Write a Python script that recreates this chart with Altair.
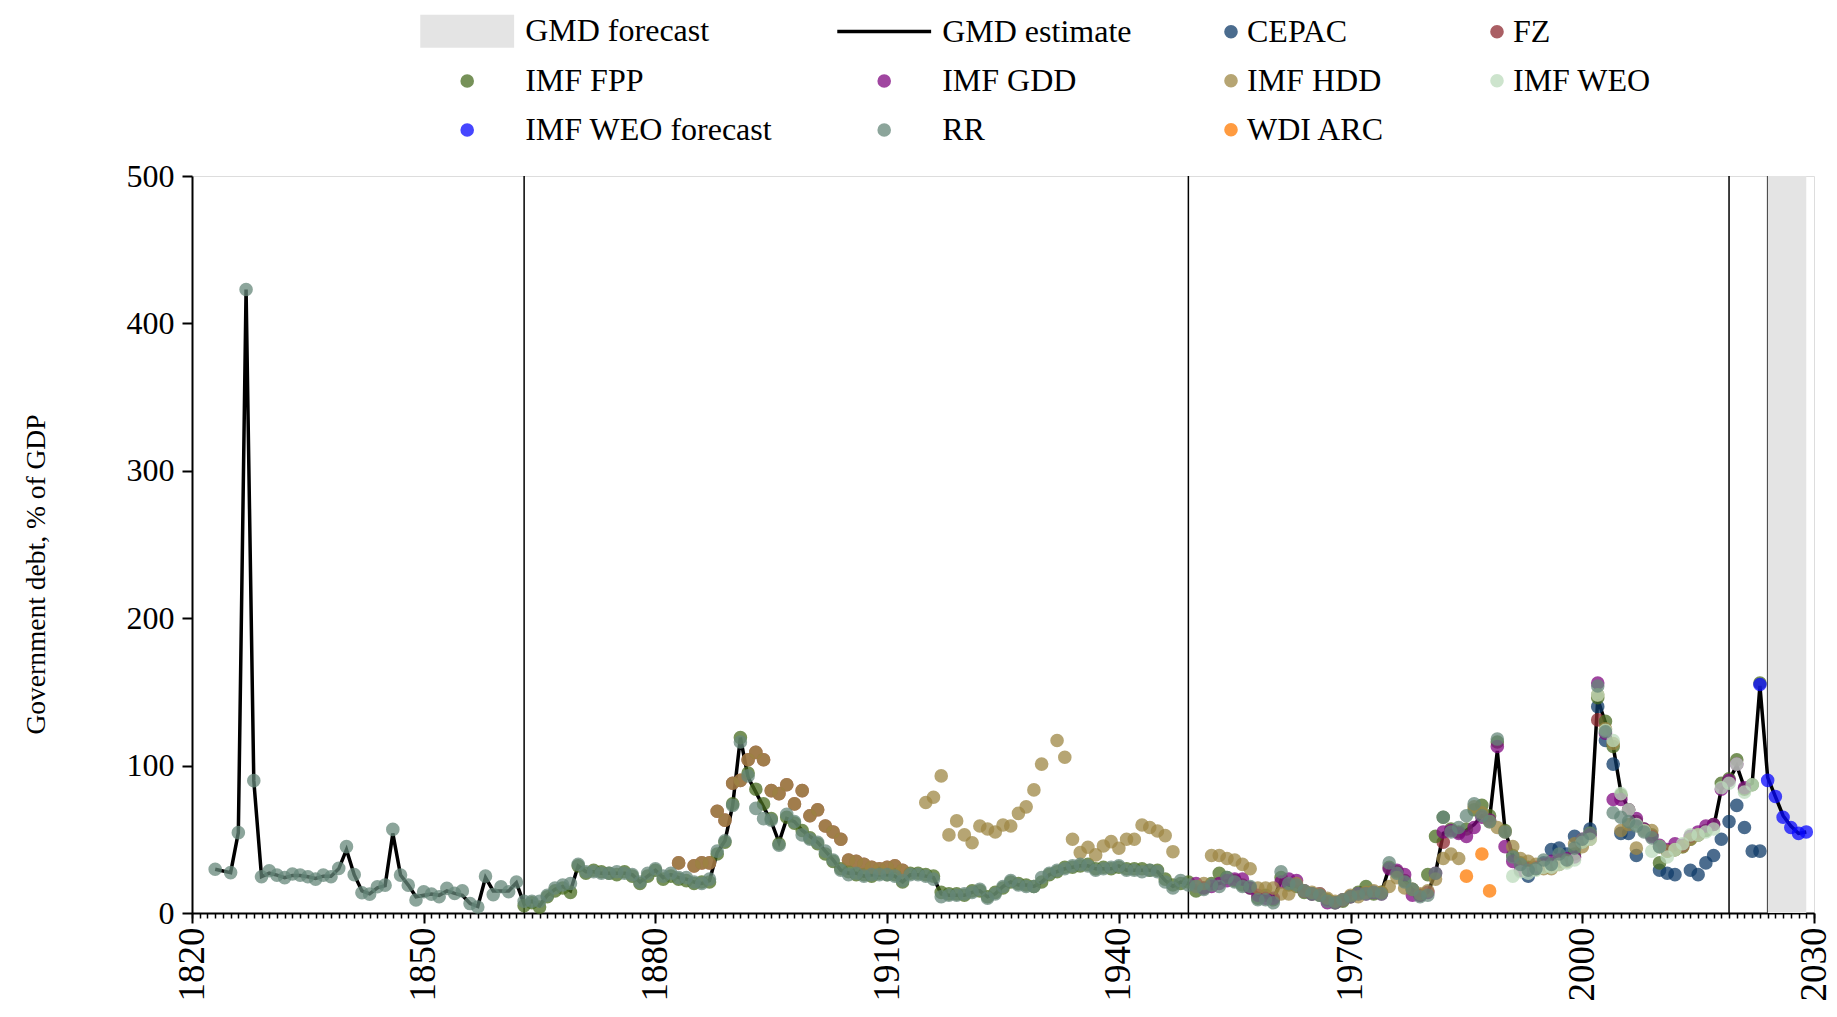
import altair as alt
import pandas as pd

FONT = "Liberation Serif"

# ---------------- data ----------------
# GMD estimate (black line), yearly from 1823 to 2029 (None = no value)
line_start = 1823
gmd_estimate = [
    29.7, None, 27.4, 54.5, 423, 89.8, 24.6, 27, 25.7, 24,          # 1823-1832
    25.5, 25.5, 24.6, 23.5, 25, 25, 30, 43, 26, 15,                 # 1833-1842
    13, 17, 18.5, 54, 25.7, 18.9, 11, 12, 12.8, 12,                 # 1843-1852
    15, 13.3, 12, 6.4, 4.5, 24, 15, 15, 15, 20.5,                   # 1853-1862
    6, 8, 5, 12, 16, 18, 15,                                        # 1863-1869
    32, 28, 28, 27, 27, 27, 27, 26, 21, 25,                         # 1870s
    29, 24, 26, 24, 23, 21, 20, 22, 41, 49,                         # 1880s
    73, 119, 92, 82, 72, 62, 48, 64, 62, 56,                        # 1890s
    52, 48, 42, 36, 29, 27, 27, 25, 26, 26,                         # 1900s
    26, 25, 21, 26, 26, 25, 24, 13, 12, 12,                         # 1910s
    12, 14, 15, 11, 13, 18, 21, 19, 19, 18,                         # 1920s
    21, 26, 28, 30, 31, 32, 32, 30, 30, 30,                         # 1930s
    32, 29, 29, 29, 29, 28, 22, 18, 21, 20,                         # 1940s
    17, 17, 19, 20, 22, 22, 20, 17, 13, 11,                         # 1950s
    9, 22, 19, 18, 15, 13, 13, 9, 7, 9,                             # 1960s
    11, 12, 13, 13, 14, 31, 28, 22, 16, 12,                         # 1970s
    14, 27, 54, 56, 55, 56, 60, 66, 64, 110,                        # 1980s
    56, 39, 34, 31, 30, 32, 33, 35, 36, 40,                         # 1990s
    48, 54, 145, 129, 113, 82, 70, 62, 57, 53,                      # 2000s
    46, 44, 43, 45, 50, 53, 56, 58, 84, 90,                         # 2010s
    100, 85, 88, 154, 92, 79, 66, 59, 54, 55,                       # 2020-2029
]

forecast_years = [2024, 2029]          # shaded GMD forecast span
break_years = [1863, 1949, 2019, 2024]  # vertical reference lines

rr_start = 1823
rr = [
    29.7, None, 27.4, 54.5, 423, 89.8, 24.6, 28.7, 25.7, 24,
    26.5, 25.7, 24.6, 23, 25.7, 24.6, 30.3, 45, 26, 13.7,
    12.8, 17.8, 18.9, 56.7, 25.7, 18.9, 8.8, 14.4, 12.8, 11,
    16.7, 13.3, 15, 6.4, 4.1, 25, 12.5, 17.8, 14.4, 21,
    8, 8, 8, 12, 17, 19, 20,
    33, 28, 28, 27, 27, 28, 27, 26, 21, 27,
    30, 25, 27, 24, 24, 21, 20, 23, 42, 49,
    73, 116, 93, 71, 64, 63, 46, 67, 62, 53,
    50, 48, 42, 36, 29, 26, 27, 25, 26, 26,
    26, 25, 22, 26, 26, 25, 23, 11, 12, 12,
    13, 14, 16, 10, 13, 18, 22, 19, 18, 18,
    24, 27, 29, 30, 32, 33, 32, 29, 30, 31,
    32, 29, 29, 28, 29, 28, 21, 17, 22, 19,
    18, 16, 19, 18, 24, 21, 18, 18, 9, 9,
    7, 28, 20, 19, 15, 13, 12, 8, 7, 9,
    11, 13, 13, 14, 13, 34, 27, 21, 16, 11,
    12, 27, 65, 55, 58, 66, 74, 66, 62, 118,
    55, 38, 33, 29, 30, 36, 33, 40, 36, 44,
    50, 54, 154, 123, 68, 65, 62, 59, 55, 51,
    45,
]

fpp_start = 1863
imf_fpp = [
    5, 7, 4, 11, 15, 17, 14,
    32, 27, 29, 28, 27, 26, 28, 25, 20, 25,
    29, 23, 25, 23, 22, 20, 21, 21, 40, 48,
    74, 119, 95, 84, 74, 64, 47, 65, 61, 56,
    51, 47, 40, 35, 30, 28, 26, 26, 25, 27,
    26, 26, 21, 27, 27, 26, 25, 14, 13, 13,
    12, 15, 15, 11, 14, 17, 21, 20, 19, 18,
    21, 26, 28, 31, 31, 32, 33, 30, 31, 30,
    31, 30, 30, 30, 29, 29, 23, 19, 20, 21,
    15, 17, 20, 27, 24, 22, 19, 17, 10, 12,
    9, 24, 19, 18, 14, 13, 12, 9, 7, 8,
    11, 14, 18, 13, 14, 31, 28, 22, 16, 12,
    26, 52, 65, 57, 55, 57, 70, 73, 66, 116,
    56, 39, 34, 31, 30, 32, 33, 35, 36, 40,
    48, 54, 146, 130, 113, 80, 70, 62, 57, 53,
    34, 42, 43, 45, 50, 53, 56, 60, 88, 91,
    104, 84, 87, 156,
]

gdd_start = 1950
imf_gdd = [
    20, 17, 18, 20, 22, 23, 23, 17, 12, 10,
    10, 21, 23, 22, 15, 13, 13, 7, 7, 9,
    11, 13, 13, 14, 13, 30, 29, 26, 12, 12,
    14, 27, 55, 56, 54, 52, 58, 65, 63, 113,
    45, 35, 29, 30, 31, 33, 35, 36, 37, 38,
    50, 53, 156, 122, 77, 77, 70, 64, 57, 52,
    46, 43, 47, 46, 52, 55, 59, 60, 84, 90,
    101, 85,
]

hdd_a_start = 1883
imf_hdd_a = [
    34, None, 32, 34, 34, 69, 63, 88, 90, 104,
    109, 104, 83, 81, 87, 74, 83, 66, 70, 59,
    55, 50, 36, 35, 33, 31, 30, 31, 32, 29,
]
hdd_b_start = 1915
imf_hdd_b = [
    75, 78.5, 93, 53, 62.5, 53, 47.7, 59, 57, 55,
    59.7, 59, 67.6, 72, 83.5, 101, None, 117, 105.7, 50,
    41, 44.6, 39.4, 45.5, 48.4, 43.9, 50, 50, 59.7, 58,
    55.6, 52.5, 41.6,
]
hdd_c_start = 1950
imf_hdd_c = [
    18, 20, 39, 39, 37, 36, 33, 30, 17, 17,
    17, 13, 13, 20, 15, 14, 13, 10, 8, 9,
    12, 11, 14, 15, 14, 18, 24, 17, 16, 13,
    15, 23, 37, 40, 37, None, 72, 68, 62, 58,
    55, 45, 37, 35, 33, 30, 30, 33, 35, 47,
    45, 50, 148, 125, 115, 56, 60, 44, 56, 56,
    45, 42, 43, 45, 50, 53,
]

fz_a_start = 1883
fz_a = [
    34, None, 32, 34, 34, 69, 63, 88, 90, 104,
    109, 104, 83, 81, 87, 74, 83, 66, 70, 59,
    55, 50, 36, 35, 33, 31, 30, 31, 32, 29,
]
fz_b_years = [1982, 2002]
fz_b = [48, 131]

weo_start = 1991
imf_weo = [
    25, 28, 27, 29, 31, 31, 33, 34, 36,
    48, 50, 148, 124, 117, 81, 70, 60, 56, 42,
    45, 38, 43, 47, 53, 53, 55, 57, 85, 88,
    101, 82, 87,
]

weo_fc_start = 2023
imf_weo_forecast = [155, 90, 79, 65, 58, 54, 55]

cepac_start = 1993
cepac = [
    25, 30, 34, 43, 44, 40, 52,
    None, 57, 140, 117, 101, 54, 54, 39, None, None,
    29, 27, 26, None, 29, 26, 34, 39, 50, 62,
    73, 58, 42, 42,
]

wdi_years = [1985, 1987, 1988]
wdi_arc = [25, 40, 15]

# ---------------- assemble tables ----------------
def seg(name, start, vals):
    return [(start + i, v, name) for i, v in enumerate(vals) if v is not None]

def pts(name, years, vals):
    return [(y, v, name) for y, v in zip(years, vals)]

rows = []
rows += seg("RR", rr_start, rr)
rows += seg("IMF FPP", fpp_start, imf_fpp)
rows += seg("IMF GDD", gdd_start, imf_gdd)
rows += seg("IMF HDD", hdd_a_start, imf_hdd_a)
rows += seg("IMF HDD", hdd_b_start, imf_hdd_b)
rows += seg("IMF HDD", hdd_c_start, imf_hdd_c)
rows += seg("FZ", fz_a_start, fz_a)
rows += pts("FZ", fz_b_years, fz_b)
rows += seg("IMF WEO", weo_start, imf_weo)
rows += seg("IMF WEO forecast", weo_fc_start, imf_weo_forecast)
rows += seg("CEPAC", cepac_start, cepac)
rows += pts("WDI ARC", wdi_years, wdi_arc)
src = pd.DataFrame(rows, columns=["year", "value", "source"])

line_df = pd.DataFrame(seg("GMD estimate", line_start, gmd_estimate),
                       columns=["year", "value", "source"])
fc_df = pd.DataFrame({"start": [forecast_years[0]], "end": [forecast_years[1]]})
brk_df = pd.DataFrame({"year": break_years})

# ---------------- styling ----------------
dom_a = ["GMD forecast", "GMD estimate", "IMF FPP", "IMF GDD", "IMF WEO forecast", "RR"]
rng_a = ["#e4e4e4", "#000000", "rgba(72,108,32,0.75)", "rgba(128,8,128,0.75)",
         "rgba(8,8,255,0.75)", "rgba(102,135,122,0.75)"]
shp_a = ["M-6.9,-2.43H6.9V2.43H-6.9Z", "M-6.9,-0.26H6.9V0.26H-6.9Z",
         "circle", "circle", "circle", "circle"]
dom_b = ["CEPAC", "FZ", "IMF HDD", "IMF WEO", "WDI ARC"]
rng_b = ["rgba(15,59,104,0.75)", "rgba(142,42,48,0.75)", "rgba(158,135,68,0.75)",
         "rgba(188,219,188,0.75)", "rgba(255,122,0,0.75)"]

legend_a = alt.Legend(orient="none", legendX=219, legendY=-161, columns=2,
                      direction="horizontal",
                      columnPadding=55, rowPadding=17, symbolSize=185,
                      symbolOffset=40.2, labelOffset=42, labelFont=FONT,
                      labelFontSize=32, labelColor="black", labelLimit=500,
                      title=None, padding=0, symbolStrokeWidth=0)
legend_b = alt.Legend(orient="none", legendX=1023, legendY=-160.3, columns=2,
                      direction="horizontal",
                      columnPadding=96, rowPadding=17, symbolSize=185,
                      labelOffset=0, labelFont=FONT, labelFontSize=32,
                      labelColor="black", labelLimit=500, title=None,
                      padding=0, symbolStrokeWidth=0)

xscale = alt.Scale(domain=[1820, 2030], nice=False, zero=False)
yscale = alt.Scale(domain=[0, 500], nice=False, zero=False)

x_axis = alt.Axis(values=list(range(1820, 2031, 30)), format="d", title=None,
                  labelAngle=270, labelAlign="right", labelBaseline="middle",
                  labelFont=FONT, labelFontSize=37, labelColor="black",
                  labelPadding=4, tickSize=10, tickWidth=2, tickColor="black",
                  domainColor="black", domainWidth=2, grid=False,
                  labelFlush=False, labelOverlap=False, orient="bottom")
minor_axis = alt.Axis(values=list(range(1820, 2031)), labels=False, domain=False,
                      tickSize=5, tickWidth=1.5, tickColor="black", grid=False,
                      title=None, orient="bottom")
y_axis = alt.Axis(values=[0, 100, 200, 300, 400, 500], title="Government debt, % of GDP",
                  labelFont=FONT, labelFontSize=32, labelColor="black",
                  labelPadding=8, tickSize=10, tickWidth=2, tickColor="black",
                  domainColor="black", domainWidth=2, grid=False,
                  titleFont=FONT, titleFontSize=27.5, titleFontWeight="normal",
                  titleColor="black", titleAngle=270, titleBaseline="middle",
                  titleX=-156, titleY=398, labelFlush=False)

X = alt.X("year:Q", scale=xscale, axis=x_axis)
Y = alt.Y("value:Q", scale=yscale, axis=y_axis)

fc_layer = alt.Chart(fc_df).mark_rect(color="#e4e4e4").encode(
    x=alt.X("start:Q", scale=xscale, axis=x_axis), x2="end:Q")
line_layer = alt.Chart(line_df).mark_line(color="black", strokeWidth=3.5).encode(x=X, y=Y)

def point_layer(name):
    d = src[src.source == name]
    base = alt.Chart(d).mark_point(filled=True, size=185, opacity=1, strokeWidth=0)
    if name in dom_a:
        return base.encode(
            x=X, y=Y,
            color=alt.Color("source:N", scale=alt.Scale(domain=dom_a, range=rng_a), legend=legend_a),
            shape=alt.Shape("source:N", scale=alt.Scale(domain=dom_a, range=shp_a), legend=legend_a),
        )
    return base.encode(
        x=X, y=Y,
        fill=alt.Fill("source:N", scale=alt.Scale(domain=dom_b, range=rng_b), legend=legend_b),
    )

order = ["CEPAC", "FZ", "IMF FPP", "IMF GDD", "IMF HDD", "IMF WEO",
         "IMF WEO forecast", "RR", "WDI ARC"]
inner = alt.layer(fc_layer, line_layer, *[point_layer(n) for n in order])

rules = alt.Chart(brk_df).mark_rule(color="black", strokeWidth=1.5).encode(
    x=alt.X("year:Q", scale=xscale, axis=minor_axis))

chart = alt.layer(rules, inner).resolve_axis(x="independent").properties(
    width=1622, height=737,
    autosize=alt.AutoSizeParams(type="none"),
    padding={"left": 184, "top": 168, "right": 15, "bottom": 90},
).configure_view(stroke=None).configure(background="white")

chart.save("out.html", embed_options={"renderer": "svg", "actions": False})
